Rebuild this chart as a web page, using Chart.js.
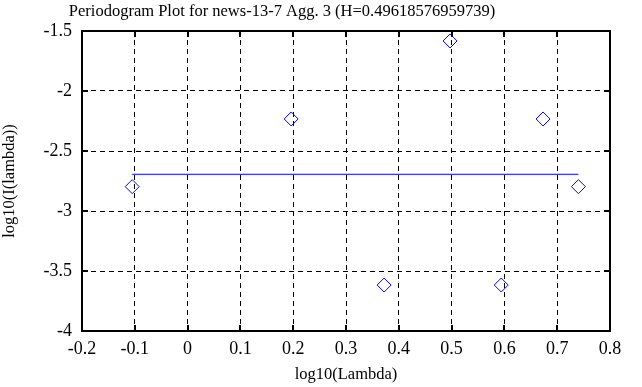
<!DOCTYPE html>
<html>
<head>
<meta charset="utf-8">
<script src="https://cdn.jsdelivr.net/npm/chart.js@4"></script>
<style>
  html, body { margin: 0; padding: 0; background: #fff; }
  canvas { display: block; }
</style>
</head>
<body>
<canvas id="chart" width="642" height="387"></canvas>
<script>
// periodogram points (log10 of frequency vs log10 of intensity)
const logLambda = [-0.1049, 0.1961, 0.3722, 0.4971, 0.5940, 0.6732, 0.7402];
const logI = [-2.797, -2.233, -3.617, -1.583, -3.617, -2.233, -2.797];
// fitted line end points
const fitX = [-0.1049, 0.7402];
const fitY = [-2.694, -2.694];
const xTicks = [-0.2, -0.1, 0, 0.1, 0.2, 0.3, 0.4, 0.5, 0.6, 0.7, 0.8];
const yTicks = [-4, -3.5, -3, -2.5, -2, -1.5];
const titleText = 'Periodogram Plot for news-13-7 Agg. 3 (H=0.49618576959739)';

const FONT = 'Liberation Serif';

// title is drawn a bit left of the canvas centre, like the original
const titlePlugin = {
    id: 'plotTitle',
    afterDraw(chart) {
        const { ctx } = chart;
        ctx.save();
        ctx.fillStyle = '#000';
        ctx.font = '16.5px "' + FONT + '"';
        ctx.textAlign = 'center';
        ctx.textBaseline = 'middle';
        ctx.fillText(titleText, 282, 12);
        ctx.restore();
    }
};

// frame + inner tick marks on all four sides
const framePlugin = {
    id: 'frame',
    afterDraw(chart) {
        const { ctx, chartArea: a, scales } = chart;
        ctx.save();
        ctx.strokeStyle = '#000';
        ctx.lineWidth = 2;
        ctx.strokeRect(a.left, a.top, a.right - a.left, a.bottom - a.top);
        const len = 6;
        ctx.beginPath();
        xTicks.forEach(v => {
            const px = Math.round(scales.x.getPixelForValue(v));
            ctx.moveTo(px, a.bottom); ctx.lineTo(px, a.bottom - len);
            ctx.moveTo(px, a.top); ctx.lineTo(px, a.top + len);
        });
        yTicks.forEach(v => {
            const py = Math.round(scales.y.getPixelForValue(v));
            ctx.moveTo(a.left, py); ctx.lineTo(a.left + len, py);
            ctx.moveTo(a.right, py); ctx.lineTo(a.right - len, py);
        });
        ctx.stroke();
        ctx.restore();
    }
};

new Chart(document.getElementById('chart'), {
    type: 'scatter',
    data: {
        datasets: [{
            data: logLambda.map((x, i) => ({ x, y: logI[i] })),
            pointStyle: 'rectRot',
            pointRadius: 7,
            pointBorderWidth: 1,
            borderColor: '#0000ff',
            backgroundColor: 'rgba(0,0,0,0)',
            showLine: false
        }, {
            data: fitX.map((x, i) => ({ x, y: fitY[i] })),
            showLine: true,
            borderColor: '#0000ff',
            borderWidth: 1,
            pointRadius: 0
        }]
    },
    options: {
        responsive: false,
        animation: false,
        devicePixelRatio: 1,
        layout: { padding: { top: 31, right: 32 } },
        plugins: {
            legend: { display: false },
            tooltip: { enabled: false },
            title: { display: false }
        },
        scales: {
            x: {
                type: 'linear',
                min: -0.2,
                max: 0.8,
                afterBuildTicks: s => { s.ticks = xTicks.map(v => ({ value: v })); },
                afterFit: s => { s.height = 56; },
                ticks: {
                    color: '#000',
                    font: { family: FONT, size: 18 },
                    padding: 7,
                    maxRotation: 0,
                    callback: v => String(Math.round(v * 10) / 10)
                },
                grid: { color: '#000', lineWidth: 1, drawTicks: false },
                border: { display: false, dash: [5, 4] },
                title: {
                    display: true,
                    text: 'log10(Lambda)',
                    color: '#000',
                    font: { family: FONT, size: 16.5 },
                    padding: { top: 0, bottom: 2 }
                }
            },
            y: {
                type: 'linear',
                min: -4,
                max: -1.5,
                afterBuildTicks: s => { s.ticks = yTicks.map(v => ({ value: v })); },
                afterFit: s => { s.width = 82; },
                ticks: {
                    color: '#000',
                    font: { family: FONT, size: 18 },
                    padding: 10,
                    callback: v => String(Math.round(v * 10) / 10)
                },
                grid: { color: '#000', lineWidth: 1, drawTicks: false },
                border: { display: false, dash: [5, 4] },
                title: {
                    display: true,
                    text: 'log10(I(lambda))',
                    color: '#000',
                    font: { family: FONT, size: 16.5 },
                    padding: { top: 0, bottom: 0 }
                }
            }
        }
    },
    plugins: [framePlugin, titlePlugin]
});
</script>
</body>
</html>
